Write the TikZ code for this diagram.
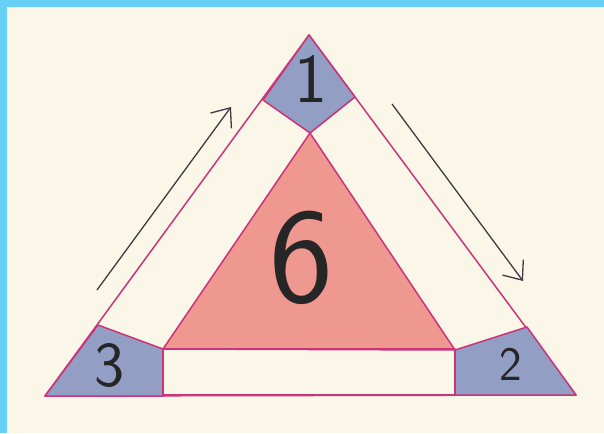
\documentclass[tikz,border=0pt]{standalone}
\definecolor{Paper}{RGB}{251,247,232}
\definecolor{Frame}{RGB}{104,208,246}
\definecolor{Edge}{RGB}{202,52,122}
\definecolor{Slate}{RGB}{146,158,196}
\definecolor{Blush}{RGB}{238,152,144}
\definecolor{Pencil}{RGB}{60,60,66}
\usetikzlibrary{arrows.meta,calc}
\tikzset{>={Straight Barb[length=16pt,width=26pt]}}
\tikzset{edgeline/.style={draw=Edge,line width=1.5pt,line join=round}}
\tikzset{corner/.style={edgeline,fill=Slate}}
\tikzset{core/.style={edgeline,fill=Blush}}
\tikzset{turn/.style={->,draw=Pencil,line width=1.3pt}}
\tikzset{digit/.style={text=black!85,font=\sffamily\fontsize{#1}{#1}\selectfont,inner sep=0pt}}

\begin{document}
\begin{tikzpicture}[x=1pt,y=-1pt]
    % paper and frame
    \fill[Paper] (0,0) rectangle (604,433);
    \fill[Frame] (0,0) rectangle (604,7);
    \fill[Frame] (0,0) rectangle (7,433);
    \useasboundingbox (0,0) rectangle (604,433);
    % outer triangle
    \coordinate (top) at (309,35);
    \coordinate (bl) at (45,396);
    \coordinate (br) at (576,395);
    % inner triangle
    \coordinate (itop) at (310,133);
    \coordinate (ibl) at (163,349);
    \coordinate (ibr) at (455,350);
    % points on the outer sides
    \coordinate (tl) at (263,100);
    \coordinate (tr) at (355,97);
    \coordinate (ml) at (98,325);
    \coordinate (mr) at (527,327);
    \coordinate (bml) at (163,396);
    \coordinate (bmr) at (455,395);
    \draw[edgeline] (top) -- (bl) -- (br) -- cycle;
    \draw[core] (itop) -- (ibl) -- (ibr) -- cycle;
    \draw[corner] (top) -- (tl) -- (itop) -- (tr) -- cycle;
    \draw[corner] (bl) -- (ml) -- (ibl) -- (bml) -- cycle;
    \draw[corner] (br) -- (mr) -- (ibr) -- (bmr) -- cycle;
    \draw[edgeline] (ibl) rectangle (bmr);
    % arrows
    \coordinate (a1) at (97,290);
    \coordinate (a2) at (231,107);
    \coordinate (b1) at (392,104);
    \coordinate (b2) at (523,281);
    \draw[turn] (a1) -- (a2);
    \draw[turn] (b1) -- (b2);
    % numbers
    \node[digit=70] (n1) at (311,79) {1};
    \node[digit=64] (n3) at (110,366) {3};
    \node[digit=48] (n2) at (511,364) {2};
    \node[digit=136] (n6) at (301,258) {6};
\end{tikzpicture}
\end{document}
